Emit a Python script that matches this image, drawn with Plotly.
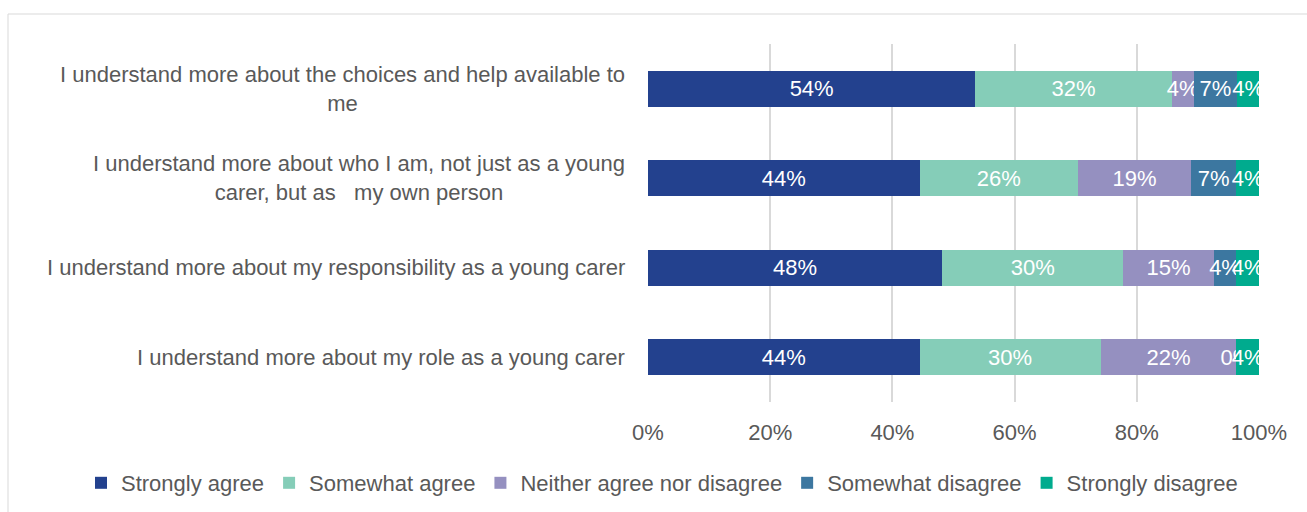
import plotly.graph_objects as go

categories = [
    "I understand more about the choices and help available to<br>me",
    "I understand more about who I am, not just as a young<br>carer, but as   my own person",
    "I understand more about my responsibility as a young carer",
    "I understand more about my role as a young carer",
]
series_names = ["Strongly agree", "Somewhat agree", "Neither agree nor disagree",
                "Somewhat disagree", "Strongly disagree"]
strongly_agree = [53.57, 44.44, 48.15, 44.44]
somewhat_agree = [32.14, 25.93, 29.63, 29.63]
neither = [3.57, 18.52, 14.81, 22.22]
somewhat_disagree = [7.14, 7.41, 3.70, 0.0]
strongly_disagree = [3.57, 3.70, 3.70, 3.70]
colors = ["#23418E", "#85CDB8", "#9590C0", "#3C77A0", "#00AB8E"]
tick_vals = [0, 20, 40, 60, 80, 100]
tick_text = ["0%", "20%", "40%", "60%", "80%", "100%"]

series = [strongly_agree, somewhat_agree, neither, somewhat_disagree, strongly_disagree]
FONT = "Liberation Sans, Arial, sans-serif"
GREY = "#595959"
FS = 22

fig = go.Figure()
for name, vals, col in zip(series_names, series, colors):
    positions = ["outside" if v == 0 else "inside" for v in vals]
    fig.add_trace(go.Bar(
        y=categories, x=vals, name=name, orientation="h",
        marker=dict(color=col, line=dict(width=0)),
        texttemplate="%{x:.0f}%", textposition=positions, textangle=0,
        insidetextanchor="middle", constraintext="none",
        textfont=dict(color="white", size=FS, family=FONT),
        outsidetextfont=dict(color="white", size=FS, family=FONT),
        cliponaxis=False,
    ))

L, R, T, B = 648, 48, 44, 110
W, H = 1307, 512
pw, ph = W - L - R, H - T - B

for c in categories:
    fig.add_annotation(
        x=0, y=c, xref="paper", yref="y", xanchor="right", yanchor="middle",
        xshift=-21, text=c, showarrow=False, align="center",
        font=dict(color=GREY, size=FS, family=FONT),
    )

fig.add_shape(
    type="rect", xref="paper", yref="paper", layer="below",
    x0=(8 - L) / pw, x1=(1312 - L) / pw,
    y0=(H - B - 516) / ph, y1=(H - B - 14) / ph,
    line=dict(color="#D9D9D9", width=1), fillcolor="rgba(0,0,0,0)",
)

fig.update_layout(
    width=W, height=H, barmode="stack", bargap=0.6,
    margin=dict(l=L, r=R, t=T, b=B, autoexpand=False),
    paper_bgcolor="white", plot_bgcolor="white",
    font=dict(family=FONT, color=GREY, size=FS),
    xaxis=dict(range=[0, 100], tickvals=tick_vals, ticktext=tick_text,
               showgrid=True, gridcolor="#D9D9D9", gridwidth=1.5,
               zeroline=False, showline=False,
               ticks="outside", ticklen=11, tickcolor="rgba(0,0,0,0)",
               tickfont=dict(color=GREY, size=FS, family=FONT)),
    yaxis=dict(autorange="reversed", showticklabels=False, showgrid=False,
               zeroline=False, showline=False),
    legend=dict(orientation="h", xref="paper", yref="paper",
                x=(81 - L) / pw, xanchor="left",
                y=(H - B - 483) / ph, yanchor="middle",
                traceorder="normal",
                font=dict(color=GREY, size=FS, family=FONT),
                itemwidth=30, tracegroupgap=0),
    showlegend=True,
)

fig.write_html("out.html")
